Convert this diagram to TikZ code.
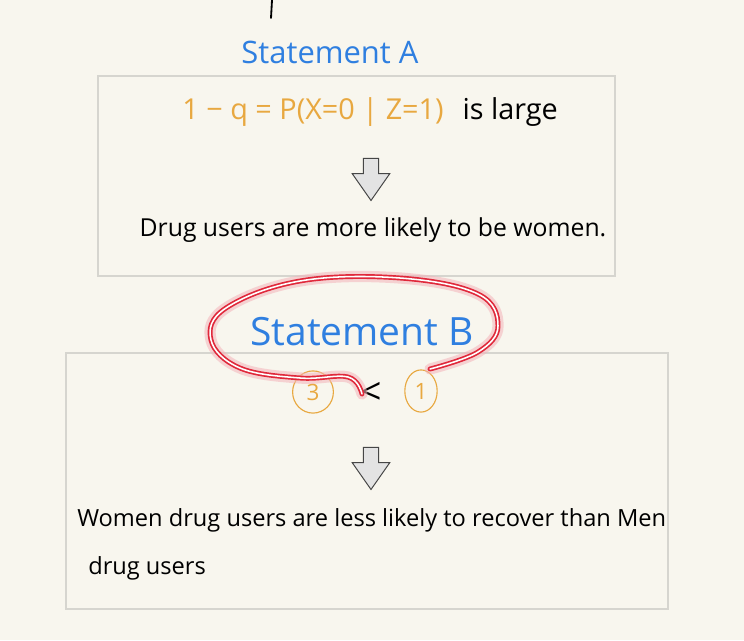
\documentclass[tikz,border=0pt]{standalone}
\usepackage{fontspec}
\setmainfont{Open Sans}
\usepackage{xcolor}
\usetikzlibrary{arrows.meta,positioning,calc,shapes.geometric,shapes.arrows}

\definecolor{paper}{HTML}{F8F6EE}
\definecolor{penblue}{HTML}{2F7FE0}
\definecolor{penorange}{HTML}{E8A840}
\definecolor{penred}{HTML}{E0283A}
\definecolor{frame}{HTML}{D6D5CF}

\begin{document}
\begin{tikzpicture}[x=0.025cm, y=-0.025cm, >=Stealth,
  panel/.style={draw=frame,line width=0.8pt},
  title/.style={text=penblue,font=\fontsize{22}{26}\selectfont,inner sep=0pt},
  ink/.style={text=black,font=\fontsize{17.6}{20}\selectfont,inner sep=0pt},
  orange/.style={text=penorange,font=\fontsize{20.5}{24}\selectfont,inner sep=0pt},
  ring/.style={ellipse,draw=penorange,line width=0.8pt,text=penorange,inner sep=0pt,
    minimum width=38pt,minimum height=38pt,font=\fontsize{16}{18}\selectfont},
  downarr/.style={single arrow,draw=gray!55!black,fill=gray!22,line width=0.7pt,rotate=-90,
    minimum height=30pt,inner sep=5pt,single arrow head extend=8pt,single arrow tip angle=70}]
  % paper and frame of the page
  \fill[paper] (0,0) rectangle (744,640);
  \useasboundingbox (0,0) rectangle (744,640);
  \coordinate (penA) at (272,0);
  \coordinate (penB) at (271,18);
  \draw[line width=1.3pt,line cap=round] (penA) -- (penB);
  % Top: statement A
  \node[title] (stmtA) at (330,52) {Statement A};
  \draw[panel] (98,76) rectangle (615,276);
  \node[orange] (formula) at (313,112) {1 − q = P(X=0 | Z=1)};
  \node[ink,font=\fontsize{20.5}{24}\selectfont,right=13pt of formula] (large) {is large};
  \node[downarr] (arrA) at (371,174) {};
  \node[ink] (textA) at (373,230) {Drug users are more likely to be women.};
  % Bottom: statement B
  \draw[panel] (66,353) rectangle (668,609);
  \node[title,font=\fontsize{27.7}{30}\selectfont] (stmtB) at (362,332) {Statement B};
  \node[ring,minimum width=29pt,minimum height=30pt] (three) at (313,392) {3};
  \node[inner sep=0pt,font=\fontsize{26}{28}\selectfont] (less) at (371,393) {<};
  \node[ring,minimum width=23pt,minimum height=30pt] (one) at (421,391) {1};
  % red loop round statement B
  \draw[penred!35,line width=8pt,opacity=0.55,line cap=round,line join=round]
    plot[smooth,tension=0.65] coordinates {(430,369) (478,352) (498,326) (478,294) (400,278)
      (300,281) (226,308) (211,340) (240,368) (300,378) (348,377) (362,394)};
  \draw[penred,line width=1.2pt,double=white,double distance=1.1pt,line cap=round,line join=round]
    plot[smooth,tension=0.65] coordinates {(430,369) (478,352) (498,326) (478,294) (400,278)
      (300,281) (226,308) (211,340) (240,368) (300,378) (348,377) (362,394)};
  \node[downarr] (arrB) at (371,463) {};
  \node[ink,font=\fontsize{16.8}{20}\selectfont,anchor=west] (lineB) at (77,520)
    {Women drug users are less likely to recover than Men};
  \node[ink,font=\fontsize{16.8}{20}\selectfont,anchor=west] (lineC) at (88,568) {drug users};
\end{tikzpicture}
\end{document}
